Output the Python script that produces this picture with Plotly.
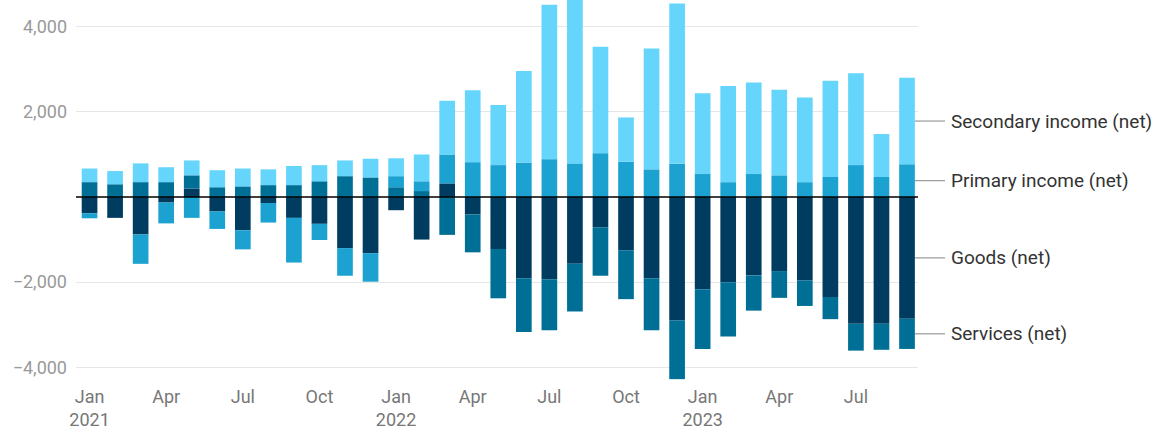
import plotly.graph_objects as go

months = [f"{m} {y}" for y in (2021, 2022, 2023)
          for m in ["Jan", "Feb", "Mar", "Apr", "May", "Jun", "Jul", "Aug", "Sep", "Oct", "Nov", "Dec"]][:33]

goods = [-380, -490, -880, -130, 200, -340, -780, -140, -490, -630, -1200, -1320,
         -310, -1000, 320, -410, -1220, -1910, -1930, -1570, -710, -1250, -1910, -2900,
         -2170, -2000, -1840, -1740, -1960, -2350, -2980, -2980, -2860]
services = [350, 300, 350, 350, 310, 230, 250, 280, 280, 370, 490, 460,
            230, 140, -890, -890, -1160, -1260, -1200, -1120, -1140, -1150, -1220, -1380,
            -1400, -1280, -830, -630, -600, -520, -630, -610, -710]
primary = [-120, 0, -690, -490, -490, -410, -450, -460, -1050, -380, -650, -670,
           260, 230, 680, 820, 750, 810, 890, 790, 1030, 830, 650, 780,
           540, 350, 540, 510, 350, 470, 750, 470, 770]
secondary = [320, 310, 440, 350, 350, 400, 420, 370, 450, 380, 370, 440,
             420, 630, 1260, 1690, 1410, 2150, 3630, 3860, 2500, 1040, 2840, 3770,
             1900, 2260, 2150, 2010, 1990, 2260, 2160, 1010, 2030]

series_names = ["Goods (net)", "Services (net)", "Primary income (net)", "Secondary income (net)"]
series_values = [goods, services, primary, secondary]
colors = ["#003c5f", "#006f96", "#1ca2d0", "#66d5fc"]

tick_idx = [0, 3, 6, 9, 12, 15, 18, 21, 24, 27, 30]
tick_text = ["Jan<br>2021", "Apr", "Jul", "Oct", "Jan<br>2022", "Apr", "Jul", "Oct",
             "Jan<br>2023", "Apr", "Jul"]
y_tick_vals = [-4000, -2000, 2000, 4000]
y_tick_text = ["\u22124,000", "\u22122,000", "2,000", "4,000"]

x = list(range(len(months)))

fig = go.Figure()
for name, vals, col in zip(series_names, series_values, colors):
    fig.add_trace(go.Bar(x=x, y=vals, name=name, marker=dict(color=col, line=dict(width=0)),
                         customdata=months, hovertemplate="%{customdata}: %{y}<extra>" + name + "</extra>"))

# label positions: midpoints of the last bar's segments (relative stacking)
pos_base, neg_base = 0, 0
label_y = []
for vals in series_values:
    v = vals[-1]
    if v >= 0:
        label_y.append(pos_base + v / 2)
        pos_base += v
    else:
        label_y.append(neg_base + v / 2)
        neg_base += v

shapes = [dict(type="line", xref="paper", yref="y", x0=0, x1=1, y0=0, y1=0,
               line=dict(color="#000000", width=1.5), layer="above")]
annotations = []
for name, yv in zip(series_names, label_y):
    shapes.append(dict(type="line", xref="paper", yref="y", x0=1.0 - 3 / 842, x1=1 + 27 / 842,
                       y0=yv, y1=yv, line=dict(color="#999999", width=1.2), layer="above"))
    annotations.append(dict(xref="paper", yref="y", x=1 + 31 / 842, y=yv, text=name,
                            showarrow=False, xanchor="left", yanchor="middle",
                            font=dict(family="Roboto", size=19, color="#333333")))

fig.update_layout(
    width=1157, height=432,
    margin=dict(l=76, r=239, t=0, b=52),
    barmode="relative", bargap=0.386,
    plot_bgcolor="white", paper_bgcolor="white",
    showlegend=False,
    font=dict(family="Roboto", size=18, color="#888888"),
    shapes=shapes, annotations=annotations,
    xaxis=dict(range=[-0.53, 32.43], tickmode="array", tickvals=tick_idx, ticktext=tick_text,
               showgrid=False, zeroline=False, showline=False, ticks="",
               ticklabelstandoff=4, automargin=False,
               tickfont=dict(family="Roboto", size=18, color="#777777")),
    yaxis=dict(range=[-4300, 4630], tickmode="array", tickvals=y_tick_vals, ticktext=y_tick_text,
               showgrid=True, gridcolor="#e6e6e6", gridwidth=1, zeroline=False,
               showline=False, ticks="", ticklabelstandoff=8, automargin=False,
               tickfont=dict(family="Roboto", size=18, color="#999999")),
)

fig.write_html("out.html")
